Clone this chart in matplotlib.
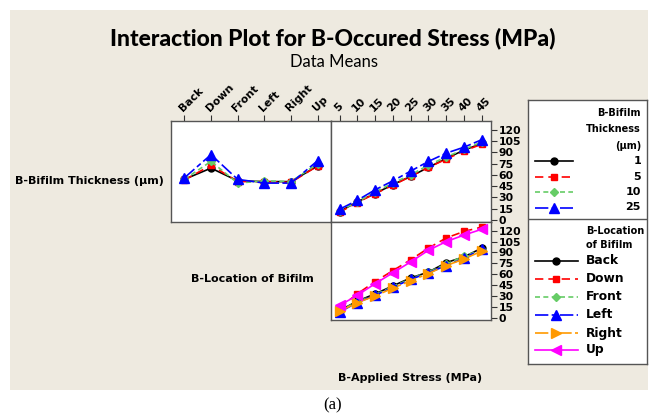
import matplotlib
matplotlib.use("Agg")
import matplotlib.pyplot as plt
from matplotlib.lines import Line2D
from matplotlib.patches import Rectangle

# ---------------- data ----------------
locations = ["Back", "Down", "Front", "Left", "Right", "Up"]
thickness_levels = ["1", "5", "10", "25"]
stress = [5, 10, 15, 20, 25, 30, 35, 40, 45]

# Thickness x Location means
t1_by_loc = [54, 69, 52, 51, 51, 72]
t5_by_loc = [53, 73, 51, 51, 50, 72]
t10_by_loc = [54, 78, 49, 52, 51, 75]
t25_by_loc = [56, 87, 54, 49, 49, 79]

# Thickness x Applied stress means
t1_by_stress = [11, 24, 35, 47, 58, 70, 82, 93, 102]
t5_by_stress = [10, 23, 35, 46, 58, 70, 81, 92, 101]
t10_by_stress = [12, 24, 37, 49, 60, 73, 84, 94, 104]
t25_by_stress = [14, 26, 40, 52, 65, 78, 89, 97, 107]

# Location x Applied stress means
back_by_stress = [10, 23, 33, 44, 55, 63, 76, 84, 96]
down_by_stress = [14, 33, 50, 65, 80, 96, 110, 119, 125]
front_by_stress = [10, 22, 32, 43, 54, 63, 74, 85, 94]
left_by_stress = [8, 21, 31, 42, 53, 62, 72, 82, 95]
right_by_stress = [9, 21, 30, 41, 51, 61, 72, 81, 92]
up_by_stress = [17, 31, 47, 62, 77, 93, 105, 114, 122]

y_ticks = [0, 15, 30, 45, 60, 75, 90, 105, 120]

# ---------------- styles ----------------
W, H = 659, 418
BG = "#EEEAE0"
FRAME = "#555555"
thick_styles = [
    dict(color="black", ls="-", marker="o", ms=5),
    dict(color="#FF0000", ls=(0, (5, 3)), marker="s", ms=5),
    dict(color="#66CC66", ls=(0, (3, 2)), marker="D", ms=4.5),
    dict(color="#0000FF", ls=(0, (8, 2, 3, 2)), marker="^", ms=6.5),
]
loc_styles = [
    dict(color="black", ls="-", marker="o", ms=5),
    dict(color="#FF0000", ls=(0, (5, 3)), marker="s", ms=5),
    dict(color="#66CC66", ls=(0, (3, 2)), marker="D", ms=4.5),
    dict(color="#0000FF", ls=(0, (8, 2, 3, 2)), marker="^", ms=6.5),
    dict(color="#FF9900", ls=(0, (8, 2, 2, 2)), marker=">", ms=6.5),
    dict(color="#FF00FF", ls="-", marker="<", ms=6.5),
]

BOLD = dict(family="DejaVu Sans", fontweight="bold")

fig = plt.figure(figsize=(W / 100, H / 100), dpi=100)
fig.patch.set_facecolor("white")
fig.patches.append(Rectangle((10 / W, 1 - 390 / H), 638 / W, 380 / H,
                             transform=fig.transFigure, facecolor=BG,
                             edgecolor="none", zorder=-10))


def fax(x0, y0, x1, y1):
    return fig.add_axes([x0 / W, 1 - y1 / H, (x1 - x0) / W, (y1 - y0) / H])


ylim = (-3, 132)
TICKFS = 7.8

# top-left: thickness vs location
ax1 = fax(171, 121, 331, 222)
thick_loc = [t1_by_loc, t5_by_loc, t10_by_loc, t25_by_loc]
xi = list(range(len(locations)))
for vals, st in zip(thick_loc, thick_styles):
    ax1.plot(xi, vals, color=st["color"], ls=st["ls"], marker=st["marker"],
             ms=st["ms"], lw=1.2, mec=st["color"], mfc=st["color"])
ax1.set_xlim(-0.5, 5.5)
ax1.set_ylim(*ylim)
ax1.set_yticks([])
ax1.xaxis.tick_top()
ax1.set_xticks(xi)
ax1.set_xticklabels(locations, rotation=45, ha="left", va="bottom",
                    rotation_mode="anchor", fontsize=TICKFS, **BOLD)

# top-right: thickness vs stress
ax2 = fax(331, 121, 491, 222)
thick_stress = [t1_by_stress, t5_by_stress, t10_by_stress, t25_by_stress]
for vals, st in zip(thick_stress, thick_styles):
    ax2.plot(stress, vals, color=st["color"], ls=st["ls"], marker=st["marker"],
             ms=st["ms"], lw=1.2, mec=st["color"], mfc=st["color"])
ax2.set_xlim(2.6, 47.6)
ax2.set_ylim(*ylim)
ax2.xaxis.tick_top()
ax2.set_xticks(stress)
ax2.set_xticklabels([str(s) for s in stress], rotation=45, ha="left",
                    va="bottom", rotation_mode="anchor", fontsize=TICKFS, **BOLD)
ax2.yaxis.tick_right()
ax2.set_yticks(y_ticks)
ax2.set_yticklabels([str(v) for v in y_ticks], fontsize=TICKFS, **BOLD)

# bottom-right: location vs stress
ax3 = fax(331, 222, 491, 320)
loc_stress = [back_by_stress, down_by_stress, front_by_stress,
              left_by_stress, right_by_stress, up_by_stress]
for vals, st in zip(loc_stress, loc_styles):
    ax3.plot(stress, vals, color=st["color"], ls=st["ls"], marker=st["marker"],
             ms=st["ms"], lw=1.2, mec=st["color"], mfc=st["color"])
ax3.set_xlim(2.6, 47.6)
ax3.set_ylim(*ylim)
ax3.set_xticks([])
ax3.yaxis.tick_right()
ax3.set_yticks(y_ticks)
ax3.set_yticklabels([str(v) for v in y_ticks], fontsize=TICKFS, **BOLD)

for ax in (ax1, ax2, ax3):
    ax.set_facecolor("white")
    for sp in ax.spines.values():
        sp.set_color(FRAME)
        sp.set_linewidth(1.0)
    ax.tick_params(axis="both", length=4, width=0.8, color="#333333",
                   pad=1.5, labelcolor="black")

# texts
fig.text(333 / W, 1 - 38 / H, "Interaction Plot for B-Occured Stress (MPa)",
         ha="center", va="center", fontsize=16.5, family="Lato",
         fontweight="black")
fig.text(334 / W, 1 - 62 / H, "Data Means", ha="center", va="center",
         fontsize=12, family="Lato")
fig.text(89 / W, 1 - 181 / H, "B-Bifilm Thickness (µm)", ha="center",
         va="center", fontsize=8, **BOLD)
fig.text(252 / W, 1 - 279 / H, "B-Location of Bifilm", ha="center",
         va="center", fontsize=8, **BOLD)
fig.text(410 / W, 1 - 378 / H, "B-Applied Stress (MPa)", ha="center",
         va="center", fontsize=8, **BOLD)
fig.text(333 / W, 1 - 405 / H, "(a)", ha="center", va="center",
         fontsize=12, family="Liberation Serif")

# legend panel
lx0, lx1, ly0, ly1 = 528, 647, 100, 364
lax = fax(lx0, ly0, lx1, ly1)
lax.set_xlim(lx0, lx1)
lax.set_ylim(ly1, ly0)
lax.set_xticks([])
lax.set_yticks([])
lax.set_facecolor("white")
for sp in lax.spines.values():
    sp.set_color(FRAME)
    sp.set_linewidth(1.0)
lax.axhline(219, color=FRAME, lw=1.0)

LEG = dict(fontsize=7, **BOLD)
for yy, txt in zip([113, 129, 146], ["B-Bifilm", "Thickness", "(µm)"]):
    lax.text(641, yy, txt, ha="right", va="center", **LEG)
for yy, lab, st in zip([161, 176.5, 192, 207.5], thickness_levels, thick_styles):
    lax.add_line(Line2D([535, 573], [yy, yy], color=st["color"], ls=st["ls"],
                        lw=1.2))
    lax.add_line(Line2D([554], [yy], color=st["color"], marker=st["marker"],
                        ms=st["ms"], ls="none"))
    lax.text(641, yy, lab, ha="right", va="center", fontsize=8, **BOLD)

for yy, txt in zip([231, 245], ["B-Location", "of Bifilm"]):
    lax.text(586, yy, txt, ha="left", va="center", **LEG)
for yy, lab, st in zip([261, 279, 297, 315, 333, 350], locations, loc_styles):
    lax.add_line(Line2D([535, 578], [yy, yy], color=st["color"], ls=st["ls"],
                        lw=1.2))
    lax.add_line(Line2D([556], [yy], color=st["color"], marker=st["marker"],
                        ms=st["ms"], ls="none"))
    lax.text(586, yy, lab, ha="left", va="center", fontsize=8.8, **BOLD)

fig.savefig("out.png", dpi=100, facecolor="white")
